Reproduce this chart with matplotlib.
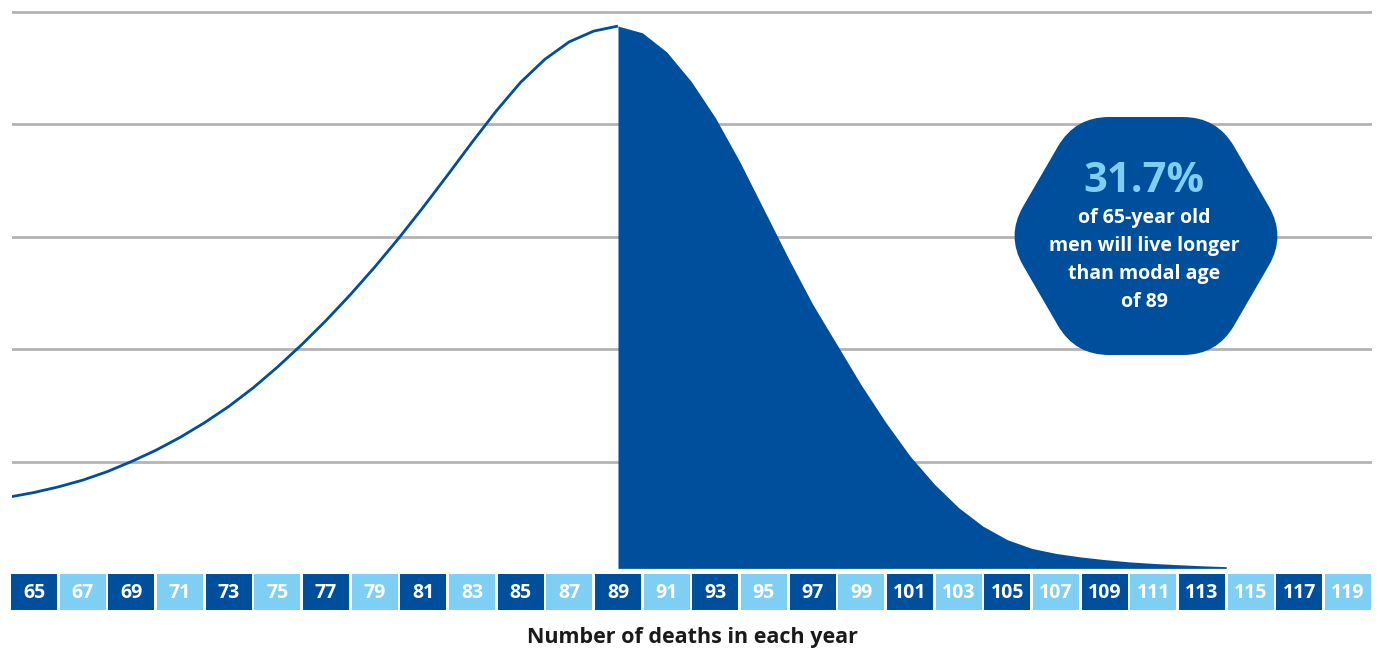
import numpy as np
import matplotlib
matplotlib.use("Agg")
import matplotlib.pyplot as plt
from matplotlib.path import Path
from matplotlib.patches import PathPatch

# ---------------- data ----------------
ages = list(range(64, 115))
deaths = [0.685, 0.725, 0.775, 0.835, 0.910, 1.000, 1.100, 1.215, 1.345, 1.490,
          1.655, 1.840, 2.040, 2.255, 2.485, 2.730, 2.990, 3.265, 3.550, 3.840,
          4.120, 4.375, 4.580, 4.735, 4.830, 4.875,
          4.815, 4.645, 4.385, 4.060, 3.670, 3.240, 2.810, 2.400, 2.040, 1.680,
          1.350, 1.050, 0.800, 0.590, 0.425, 0.305, 0.228, 0.183, 0.152, 0.128,
          0.108, 0.094, 0.083, 0.073, 0.065]
modal_age = 89
tick_ages = list(range(65, 120, 2))
grid_levels = [1, 2, 3, 4, 5]
callout_pct = "31.7%"
callout_lines = ["of 65-year old", "men will live longer", "than modal age", "of 89"]
xlabel = "Number of deaths in each year"

# ---------------- style ----------------
DARK = "#004F9C"
LIGHT = "#7FCEF3"
GRID = "#B3B3B3"
BASE = 0.05
W, H = 1383, 653
FONT = "Open Sans"

fig = plt.figure(figsize=(W / 100, H / 100), dpi=100)
fig.patch.set_facecolor("white")

px_per_year = 24.333
x_left_px, x_right_px = 12.0, 1372.3
x_min = 64 + (x_left_px - 9.67) / px_per_year
x_max = 120
main_bottom_px, main_top_px = 574, 0
ax = fig.add_axes([x_left_px / W, 1 - main_bottom_px / H,
                   (x_right_px - x_left_px) / W, (main_bottom_px - main_top_px) / H])
ax.set_xlim(x_min, x_max)
ax.set_ylim(0, 574 / 112.4)
for s in ax.spines.values():
    s.set_visible(False)
ax.set_yticks(grid_levels)
ax.set_xticks([])
ax.tick_params(left=False, labelleft=False)
ax.grid(axis="y", color=GRID, lw=2.0)
ax.set_axisbelow(True)

a = np.array(ages)
d = np.array(deaths)
left = a <= modal_age
right = a >= modal_age
ax.plot(a[left], d[left], color=DARK, lw=2.0, solid_joinstyle="round",
        solid_capstyle="butt", zorder=3)
ax.fill_between(a[right], d[right], BASE, color=DARK, lw=0, zorder=3)

# ---- tick boxes ----
box_top_px, box_bot_px = 574, 610
axb = fig.add_axes([x_left_px / W, 1 - box_bot_px / H,
                    (x_right_px - x_left_px) / W, (box_bot_px - box_top_px) / H])
axb.set_xlim(x_min, x_max)
axb.set_ylim(0, 1)
axb.axis("off")
cols = [DARK if i % 2 == 0 else LIGHT for i in range(len(tick_ages))]
axb.bar(tick_ages, [1] * len(tick_ages), width=1.89, bottom=0, color=cols, lw=0,
        clip_on=False)
for t in tick_ages:
    axb.text(t, 0.47, str(t), ha="center", va="center", color="white",
             fontsize=14, fontweight="bold", family=FONT)

# ---- overlay (callout + xlabel) ----
ov = fig.add_axes([0, 0, 1, 1])
ov.set_xlim(0, W)
ov.set_ylim(H, 0)
ov.axis("off")
ov.patch.set_alpha(0)

cx, cy = 1146, 236
verts = np.array([[cx - 71, 117], [cx + 71, 117], [cx + 140, cy],
                  [cx + 71, 355], [cx - 71, 355], [cx - 140, cy]], float)

def rounded(vs, t):
    pts, codes = [], []
    n = len(vs)
    for i in range(n):
        p0, v, p1 = vs[i - 1], vs[i], vs[(i + 1) % n]
        d0 = (p0 - v) / np.linalg.norm(p0 - v)
        d1 = (p1 - v) / np.linalg.norm(p1 - v)
        pa, pb = v + d0 * t, v + d1 * t
        pts.append(pa); codes.append(Path.MOVETO if i == 0 else Path.LINETO)
        pts += [v, pb]; codes += [Path.CURVE3, Path.CURVE3]
    pts.append(pts[0]); codes.append(Path.CLOSEPOLY)
    return Path(pts, codes)

ov.add_patch(PathPatch(rounded(verts, 34), facecolor=DARK, edgecolor="none", zorder=5))
ov.text(1144, 181, callout_pct, ha="center", va="center", color=LIGHT,
        fontsize=30, fontweight="bold", family=FONT, zorder=6)
for i, line in enumerate(callout_lines):
    ov.text(1144, 218 + i * 28, line, ha="center", va="center", color="white",
            fontsize=14, fontweight="bold", family=FONT, zorder=6)

ov.text(692, 638, xlabel, ha="center", va="center", color="#1A1A1A",
        fontsize=15.5, fontweight="bold", family=FONT)

fig.savefig("out.png", dpi=100, facecolor="white")
